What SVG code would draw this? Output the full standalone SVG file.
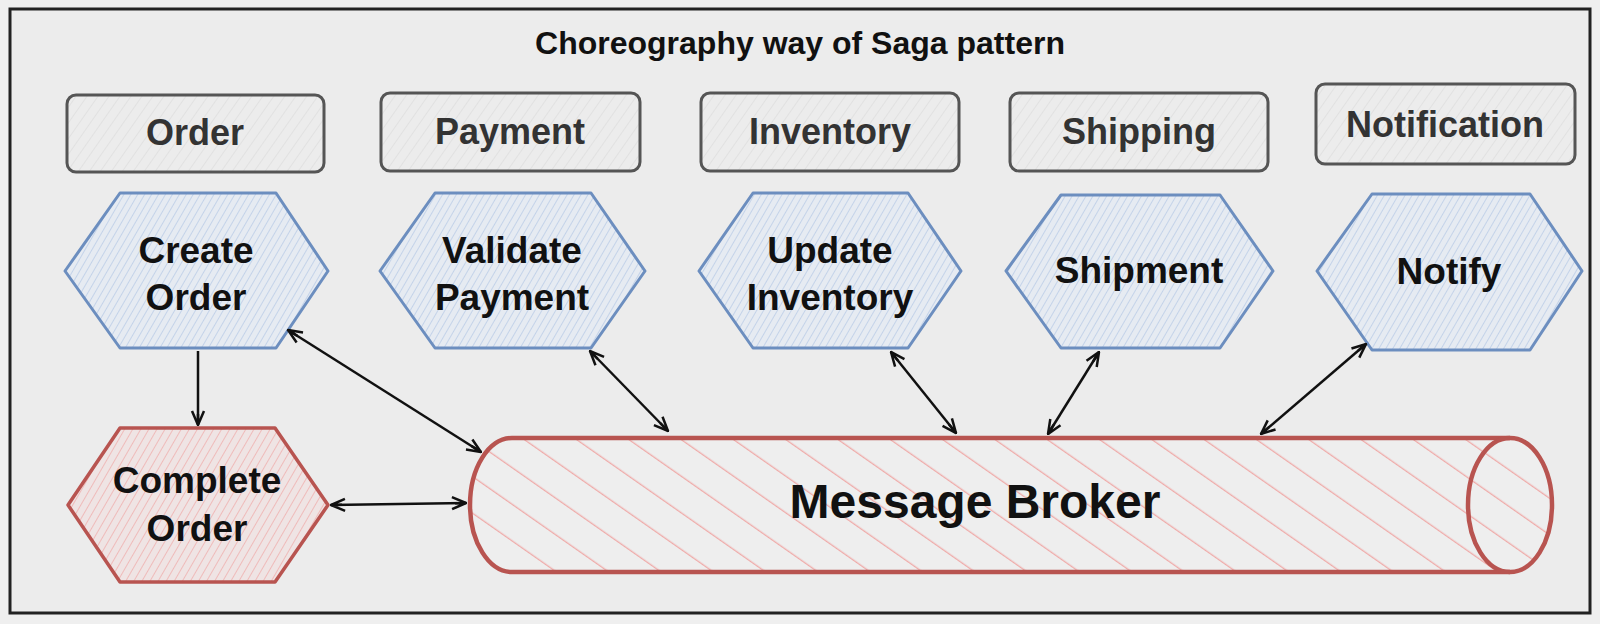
<svg xmlns="http://www.w3.org/2000/svg" width="1600" height="624" viewBox="0 0 1600 624">
<style>
.lbl{font-family:"Liberation Sans",Arial,sans-serif;font-weight:bold;text-anchor:middle;fill:#111}
.blbl{fill:#333}
.box{fill:url(#hGray);stroke:#555;stroke-width:3}
.hexB{fill:url(#hBlue);stroke:#6c8ebf;stroke-width:3;stroke-linejoin:round}
.hexR{fill:url(#hRed);stroke:#b85450;stroke-width:3.5;stroke-linejoin:round}
.conn{stroke:#111;stroke-width:2.5;fill:none;marker-end:url(#arr)}
.dbl{marker-start:url(#arr)}
</style>
<defs>
<pattern id="hGray" width="9" height="9" patternUnits="userSpaceOnUse" patternTransform="rotate(35)">
<rect width="9" height="9" fill="#ececec"/>
<line x1="0" y1="0" x2="0" y2="9" stroke="#dadada" stroke-width="1.2"/>
</pattern>
<pattern id="hBlue" width="6" height="6" patternUnits="userSpaceOnUse" patternTransform="rotate(30)">
<rect width="6" height="6" fill="#e6ebf2"/>
<line x1="0" y1="0" x2="0" y2="6" stroke="#b6c9e6" stroke-width="1.4"/>
</pattern>
<pattern id="hRed" width="7" height="7" patternUnits="userSpaceOnUse" patternTransform="rotate(30)">
<rect width="7" height="7" fill="#efe4e4"/>
<line x1="0" y1="0" x2="0" y2="7" stroke="#efaeac" stroke-width="1.5"/>
</pattern>
<pattern id="hBroker" width="30" height="30" patternUnits="userSpaceOnUse" patternTransform="rotate(-55)">
<rect width="30" height="30" fill="#eeeeee"/>
<line x1="0" y1="0" x2="0" y2="30" stroke="#efaaa8" stroke-width="2.6"/>
</pattern>
<marker id="arr" viewBox="0 0 16 16" refX="15" refY="8" markerWidth="16" markerHeight="16" markerUnits="userSpaceOnUse" orient="auto-start-reverse">
<path d="M1,2 L15,8 L1,14 M4,8 L15,8" fill="none" stroke="#111" stroke-width="2.5"/>
</marker>
</defs>
<rect width="1600" height="624" fill="#efefef"/>
<rect x="10" y="9" width="1580" height="604" fill="#ececec" stroke="#222" stroke-width="3"/>
<text class="lbl" x="800" y="54" font-size="32">Choreography way of Saga pattern</text>

<g id="box-order"><rect class="box" x="67" y="95" width="257" height="77" rx="9"/><text class="lbl blbl" x="195" y="145" font-size="36">Order</text></g>
<g id="box-payment"><rect class="box" x="381" y="93" width="259" height="78" rx="9"/><text class="lbl blbl" x="510" y="144" font-size="36">Payment</text></g>
<g id="box-inventory"><rect class="box" x="701" y="93" width="258" height="78" rx="9"/><text class="lbl blbl" x="830" y="144" font-size="36">Inventory</text></g>
<g id="box-shipping"><rect class="box" x="1010" y="93" width="258" height="78" rx="9"/><text class="lbl blbl" x="1139" y="144" font-size="36">Shipping</text></g>
<g id="box-notification"><rect class="box" x="1316" y="84" width="259" height="80" rx="9"/><text class="lbl blbl" x="1445" y="137" font-size="36">Notification</text></g>

<g id="hex-create-order"><polygon class="hexB" points="65,271 120,193 276,193 328,271 276,348 120,348"/><text class="lbl" x="196" y="263" font-size="37">Create</text><text class="lbl" x="196" y="310" font-size="37">Order</text></g>
<g id="hex-validate-payment"><polygon class="hexB" points="380,271 435,193 591,193 645,271 591,348 435,348"/><text class="lbl" x="512" y="263" font-size="37">Validate</text><text class="lbl" x="512" y="310" font-size="37">Payment</text></g>
<g id="hex-update-inventory"><polygon class="hexB" points="699,271 753,193 908,193 961,271 908,348 753,348"/><text class="lbl" x="830" y="263" font-size="37">Update</text><text class="lbl" x="830" y="310" font-size="37">Inventory</text></g>
<g id="hex-shipment"><polygon class="hexB" points="1006,271 1061,195 1220,195 1273,271 1220,348 1061,348"/><text class="lbl" x="1139" y="283" font-size="37">Shipment</text></g>
<g id="hex-notify"><polygon class="hexB" points="1317,271 1372,194 1530,194 1582,271 1530,350 1372,350"/><text class="lbl" x="1449" y="284" font-size="37">Notify</text></g>
<g id="hex-complete-order"><polygon class="hexR" points="68,505 120,428 275,428 328,505 275,582 120,582"/><text class="lbl" x="197" y="493" font-size="37">Complete</text><text class="lbl" x="197" y="541" font-size="37">Order</text></g>

<g id="message-broker">
<path d="M512,438 L1510,438 A42,67 0 0 1 1510,572 L512,572 A42,67 0 0 1 512,438 Z" fill="url(#hBroker)" stroke="#b85450" stroke-width="4.5"/>
<path d="M1510,438 A42,67 0 0 0 1510,572" fill="none" stroke="#b85450" stroke-width="4.5"/>
<text class="lbl" x="975" y="518" font-size="48">Message Broker</text>
</g>

<g id="connectors">
<line class="conn" x1="198" y1="351" x2="198" y2="425"/>
<line class="conn dbl" x1="288" y1="330" x2="481" y2="452"/>
<line class="conn dbl" x1="331" y1="505" x2="466" y2="503"/>
<line class="conn dbl" x1="590" y1="351" x2="668" y2="431"/>
<line class="conn dbl" x1="891" y1="352" x2="956" y2="433"/>
<line class="conn dbl" x1="1099" y1="352" x2="1048" y2="434"/>
<line class="conn dbl" x1="1366" y1="344" x2="1261" y2="434"/>
</g>
</svg>
